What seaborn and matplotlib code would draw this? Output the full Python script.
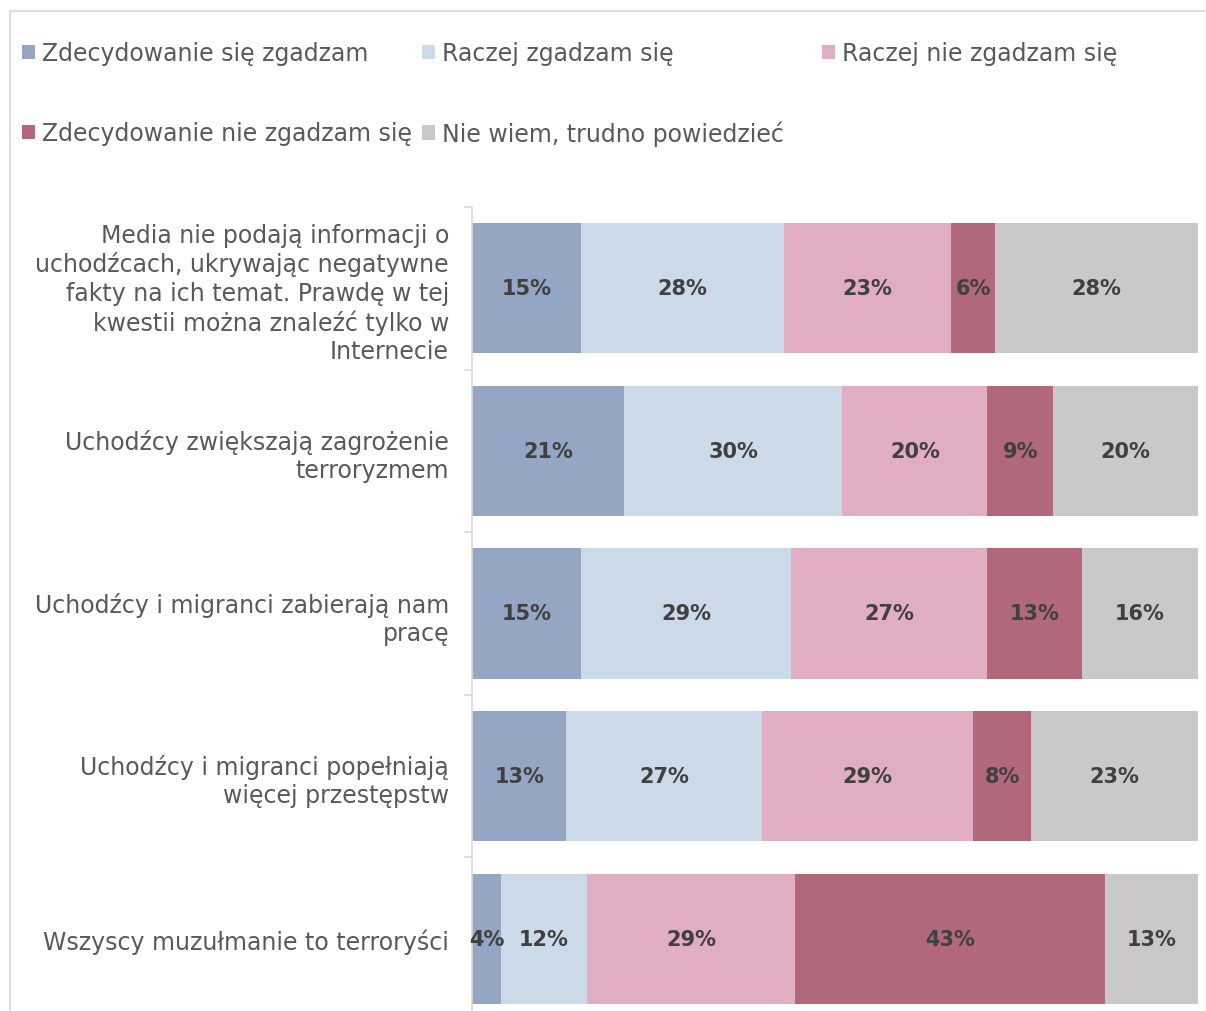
import numpy as np
import pandas as pd
import matplotlib.pyplot as plt
import seaborn as sns
from matplotlib.patches import Patch
from matplotlib.lines import Line2D

# data
statements = [
    "Media nie podają informacji o\nuchodźcach, ukrywając negatywne\nfakty na ich temat. Prawdę w tej\nkwestii można znaleźć tylko w\nInternecie",
    "Uchodźcy zwiększają zagrożenie\nterroryzmem",
    "Uchodźcy i migranci zabierają nam\npracę",
    "Uchodźcy i migranci popełniają\nwięcej przestępstw",
    "Wszyscy muzułmanie to terroryści",
]
answers = ["Zdecydowanie się zgadzam", "Raczej zgadzam się", "Raczej nie zgadzam się",
           "Zdecydowanie nie zgadzam się", "Nie wiem, trudno powiedzieć"]
strongly_agree = [15, 21, 15, 13, 4]
rather_agree = [28, 30, 29, 27, 12]
rather_disagree = [23, 20, 27, 29, 29]
strongly_disagree = [6, 9, 13, 8, 43]
dont_know = [28, 20, 16, 23, 13]
colors = ["#94A6C4", "#CCD9E8", "#E1ADC3", "#B1687A", "#CBC8C9"]

vals = np.array([strongly_agree, rather_agree, rather_disagree, strongly_disagree, dont_know], dtype=float).T
shares = vals / vals.sum(axis=1, keepdims=True) * 100
cum = shares.cumsum(axis=1)

sns.set_style("white")
plt.rcParams['font.family'] = ['DejaVu Sans']

fig = plt.figure(figsize=(12.06, 10.12), dpi=100)
W, H = 1206, 1012
ax = fig.add_axes([472 / W, 1 - 1021 / H, 726 / W, (1021 - 208) / H])

# stacked bars: draw cumulative totals from the right, each one covers the next
for k in range(len(answers) - 1, -1, -1):
    df = pd.DataFrame({"statement": statements, "value": cum[:, k]})
    sns.barplot(data=df, y="statement", x="value", order=statements, orient="h",
                color=colors[k], width=0.8, saturation=1, linewidth=0, ax=ax)

for i in range(len(statements)):
    for k in range(len(answers)):
        center = cum[i, k] - shares[i, k] / 2
        ax.text(center, i, f"{int(vals[i, k])}%", ha="center", va="center",
                fontsize=15, fontweight="bold", color="#404040")

ax.set_xlim(0, 100)
ax.set_ylim(len(statements) - 0.5, -0.5)
ax.set_xlabel("")
ax.set_ylabel("")
ax.set_xticks([])
ax.set_yticks(range(len(statements)))
ax.set_yticklabels(statements, fontsize=17, color="#595959", linespacing=1.22)
ax.tick_params(axis="y", which="major", length=0, pad=16.5)
ax.set_yticks(np.arange(-0.5, len(statements), 1), minor=True)
ax.tick_params(axis="y", which="minor", left=True, length=6, color="#D9D9D9", width=1.2)
for s in ["top", "right", "bottom"]:
    ax.spines[s].set_visible(False)
ax.spines["left"].set_color("#D9D9D9")
ax.spines["left"].set_linewidth(1.2)

# outer chart frame (cropped at right and bottom)
fig.add_artist(Line2D([10 / W, 1], [1 - 12 / H, 1 - 12 / H], color="#D9D9D9", lw=1.2))
fig.add_artist(Line2D([10 / W, 10 / W], [0, 1 - 12 / H], color="#D9D9D9", lw=1.2))

# legend entries laid out in a 3-column grid, row by row
legend_pos = [(22, 54), (422, 54), (822, 54), (22, 134), (422, 134)]
for name, c, (lx, ly) in zip(answers, colors, legend_pos):
    fig.legend([Patch(facecolor=c, edgecolor="none")], [name], loc="center left",
               bbox_to_anchor=(lx / W, 1 - ly / H), frameon=False, fontsize=17,
               labelcolor="#595959", handlelength=0.55, handleheight=0.55,
               handletextpad=0.3, borderpad=0, borderaxespad=0)

fig.savefig("out.png", dpi=100)
